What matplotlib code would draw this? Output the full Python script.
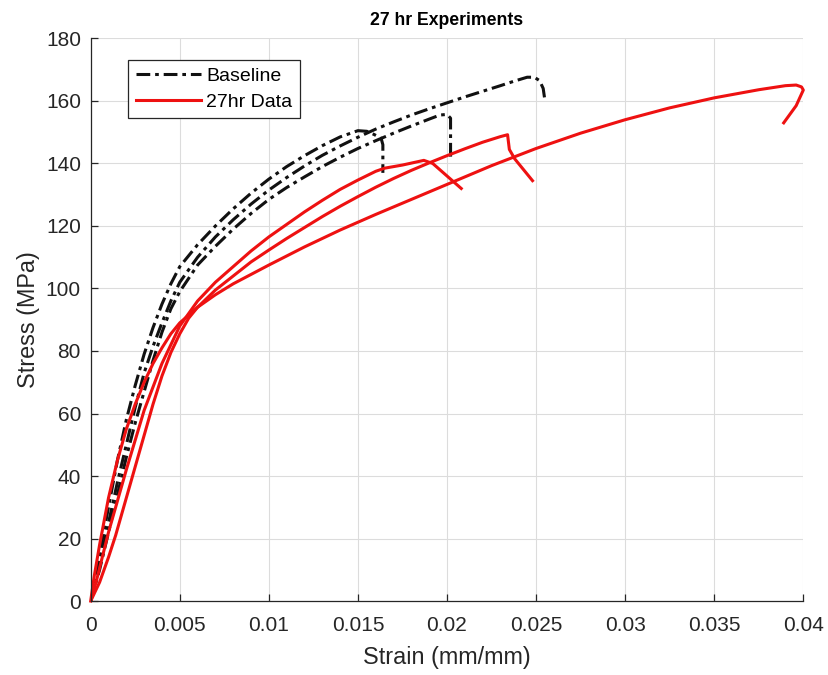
import matplotlib.pyplot as plt

plt.rcParams['font.family'] = ['Liberation Sans', 'DejaVu Sans']

# Baseline specimens (strain in mm/mm, stress in MPa)
b1_strain = [0, 0.0005, 0.001, 0.0015, 0.002, 0.0025, 0.003, 0.0035, 0.004, 0.0045, 0.005,
             0.006, 0.007, 0.008, 0.009, 0.010, 0.011, 0.012, 0.013, 0.014, 0.015,
             0.0155, 0.0159, 0.0163, 0.0164, 0.0164]
b1_stress = [0, 15, 30, 45, 58, 69, 79, 87.5, 95, 101.5, 107,
             114, 120, 125.5, 130.5, 135, 139, 142.5, 145.7, 148.5, 150.5,
             150.3, 149.3, 148.1, 146, 137]

b2_strain = [0, 0.0005, 0.001, 0.0015, 0.002, 0.0025, 0.003, 0.0035, 0.004, 0.0045, 0.005,
             0.006, 0.007, 0.008, 0.009, 0.010, 0.011, 0.012, 0.013, 0.014, 0.015,
             0.016, 0.017, 0.018, 0.019, 0.0196, 0.0200, 0.0202, 0.0202]
b2_stress = [0, 10, 22, 34, 46, 57, 67, 77, 86, 93.5, 99,
             107.5, 113.5, 119, 124, 128.5, 132.3, 135.7, 139, 142, 144.8,
             147.3, 149.7, 152, 154.2, 155.5, 155.7, 154.5, 141]

b3_strain = [0, 0.0005, 0.001, 0.0015, 0.002, 0.0025, 0.003, 0.0035, 0.004, 0.0045, 0.005,
             0.006, 0.007, 0.008, 0.009, 0.010, 0.011, 0.012, 0.013, 0.014, 0.015,
             0.016, 0.017, 0.018, 0.019, 0.020, 0.021, 0.022, 0.023, 0.0238, 0.0245,
             0.0249, 0.0252, 0.0254, 0.0255]
b3_stress = [0, 12, 25, 38, 50, 62, 73, 81.5, 89, 96, 102,
             110, 116.5, 122, 127, 131.5, 135.5, 139.2, 142.6, 145.6, 148.4,
             151, 153.3, 155.5, 157.5, 159.4, 161.3, 163.1, 164.9, 166.4, 167.6,
             167.6, 166.5, 164, 160]

# 27 hr specimens
r1_strain = [0, 0.0003, 0.001, 0.002, 0.003, 0.004, 0.005, 0.006, 0.007, 0.008, 0.009, 0.010,
             0.011, 0.012, 0.013, 0.014, 0.015, 0.016, 0.0165, 0.0175, 0.0187, 0.0192,
             0.0200, 0.0208]
r1_stress = [0, 6, 22, 42, 61, 76, 88, 96, 102, 107, 112, 116.5,
             120.5, 124.5, 128.2, 131.7, 134.7, 137.5, 138.5, 139.5, 141, 140,
             136, 132]

r2_strain = [0, 0.0005, 0.001, 0.0014, 0.002, 0.0024, 0.003, 0.0035, 0.004, 0.0045, 0.005,
             0.0055, 0.006, 0.007, 0.008, 0.009, 0.010, 0.011, 0.012, 0.013, 0.014, 0.015,
             0.016, 0.017, 0.018, 0.019, 0.020, 0.021, 0.022, 0.023, 0.0234, 0.0235,
             0.0238, 0.0243, 0.0248]
r2_stress = [0, 6, 14, 21, 33, 41, 53, 63, 72, 79.5, 85.5,
             90.5, 94, 99.5, 104, 108.5, 112.3, 116, 119.5, 123, 126.3, 129.4,
             132.4, 135.2, 137.8, 140.2, 142.5, 144.7, 146.8, 148.6, 149.2, 144.5,
             141.5, 138, 134.5]

r3_strain = [0, 0.0002, 0.0005, 0.001, 0.0015, 0.002, 0.0025, 0.003, 0.0035, 0.004, 0.0045,
             0.005, 0.006, 0.007, 0.008, 0.009, 0.010, 0.012, 0.014, 0.016, 0.018, 0.020,
             0.0225, 0.025, 0.0275, 0.030, 0.0325, 0.035, 0.0375, 0.039, 0.0396, 0.0399,
             0.0400, 0.0396, 0.0389]
r3_stress = [0, 8, 18, 33, 45, 55, 63, 70, 76, 81, 85.5,
             89, 94, 98, 101.5, 104.5, 107.5, 113.3, 118.7, 123.7, 128.5, 133.3,
             139.3, 144.8, 149.7, 154, 157.8, 161, 163.6, 164.9, 165.1, 164.5,
             163.5, 158.5, 153]

xticks = [0, 0.005, 0.01, 0.015, 0.02, 0.025, 0.03, 0.035, 0.04]
xtick_labels = ['0', '0.005', '0.01', '0.015', '0.02', '0.025', '0.03', '0.035', '0.04']
yticks = [0, 20, 40, 60, 80, 100, 120, 140, 160, 180]

fig = plt.figure(figsize=(8.29, 6.75), dpi=100)
ax = fig.add_axes([0.1094, 0.1096, 0.8596, 0.8334])

dash = (0, (4.5, 1.6, 1.2, 1.6))
black = '#111111'
red = '#ee1111'
txt = '#262626'

ax.plot(b1_strain, b1_stress, color=black, linestyle=dash, linewidth=2.2, label='Baseline')
ax.plot(b2_strain, b2_stress, color=black, linestyle=dash, linewidth=2.2)
ax.plot(b3_strain, b3_stress, color=black, linestyle=dash, linewidth=2.2)

ax.plot(r1_strain, r1_stress, color=red, linewidth=2.2, label='27hr Data')
ax.plot(r2_strain, r2_stress, color=red, linewidth=2.2)
ax.plot(r3_strain, r3_stress, color=red, linewidth=2.2, clip_on=False)

ax.set_xlim(0, 0.04)
ax.set_ylim(0, 180)
ax.set_xticks(xticks)
ax.set_xticklabels(xtick_labels)
ax.set_yticks(yticks)

ax.grid(True, color='#dcdcdc', linewidth=0.8)
ax.set_axisbelow(True)
for side in ['top', 'right']:
    ax.spines[side].set_visible(False)
for side in ['left', 'bottom']:
    ax.spines[side].set_color(txt)
    ax.spines[side].set_linewidth(0.9)
ax.tick_params(direction='in', length=5, width=0.9, colors=txt, labelsize=15)
ax.tick_params(axis='x', pad=11)
ax.tick_params(axis='y', pad=7)

ax.set_xlabel('Strain (mm/mm)', fontsize=16.8, color=txt, labelpad=8)
ax.set_ylabel('Stress (MPa)', fontsize=16.8, color=txt, labelpad=4)
ax.set_title('27 hr Experiments', fontsize=12.7, fontweight='bold', pad=10)

leg = ax.legend(loc='upper left', bbox_to_anchor=(0.052, 0.962), fontsize=14,
                handlelength=3.35, handletextpad=0.3, borderpad=0.4,
                labelspacing=0.4, fancybox=False, framealpha=1, borderaxespad=0)
leg.get_frame().set_edgecolor(txt)
leg.get_frame().set_linewidth(0.9)

plt.savefig('out.png', dpi=100)
